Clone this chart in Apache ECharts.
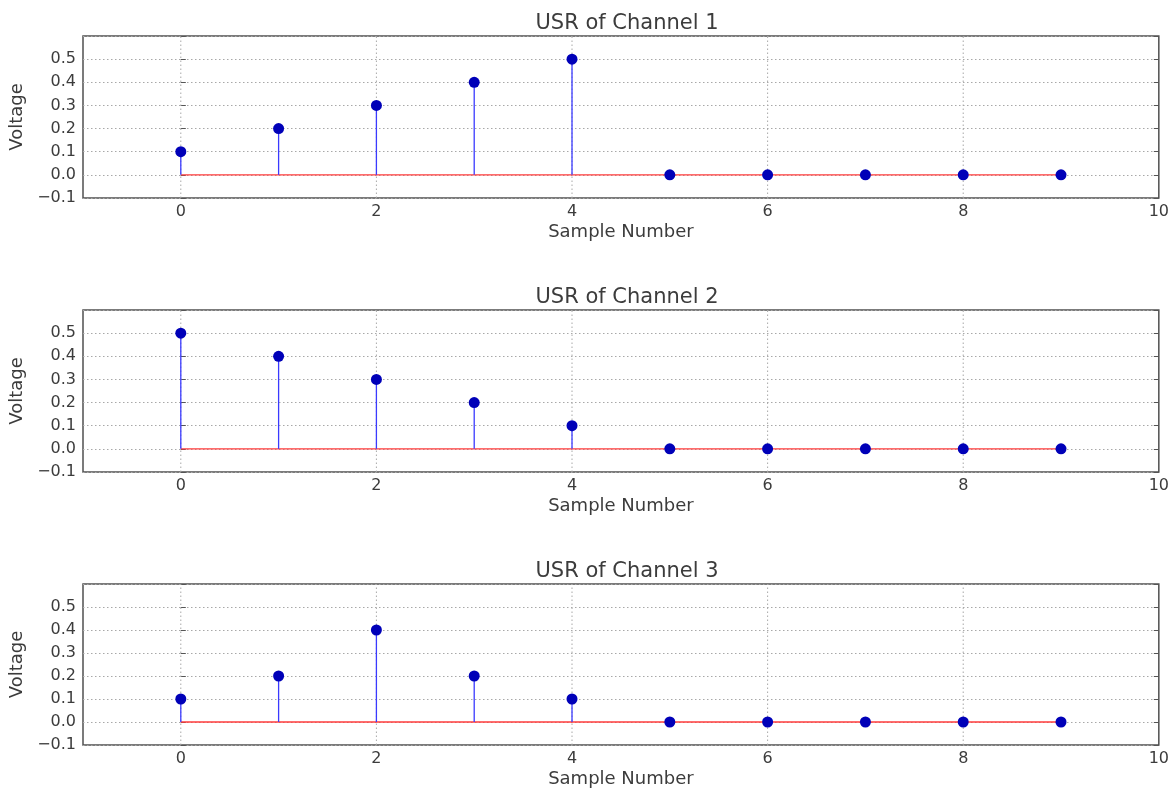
<!DOCTYPE html>
<html>
<head>
<meta charset="utf-8">
<script src="https://cdn.jsdelivr.net/npm/echarts@6/dist/echarts.min.js"></script>
<style>html,body{margin:0;padding:0;background:#fff}#c{width:1172px;height:789px}</style>
</head>
<body>
<div id="c"></div>
<script>
const samples = [0, 1, 2, 3, 4, 5, 6, 7, 8, 9];
const channel1 = [0.1, 0.2, 0.3, 0.4, 0.5, 0, 0, 0, 0, 0];
const channel2 = [0.5, 0.4, 0.3, 0.2, 0.1, 0, 0, 0, 0, 0];
const channel3 = [0.1, 0.2, 0.4, 0.2, 0.1, 0, 0, 0, 0, 0];
const titles = ['USR of Channel 1', 'USR of Channel 2', 'USR of Channel 3'];
const xGridTicks = [0, 2, 4, 6, 8];
const channels = [channel1, channel2, channel3];

const FONT = 'DejaVu Sans';
const TXT = '#3c3c3c';
const tops = [36, 310, 584];
const H = 162;
const Y_MIN = -0.1, Y_MAX = 0.6;

const grids = [], xAxes = [], yAxes = [], series = [], titleArr = [];
channels.forEach((vals, i) => {
  grids.push({left: 83, right: 11, top: tops[i], height: H, show: true, borderColor: '#505050', borderWidth: 1.5, backgroundColor: '#fff'});
  titleArr.push({text: titles[i], left: 622, textAlign: 'center', top: tops[i] - 28,
    textStyle: {fontFamily: FONT, fontSize: 21, fontWeight: 'normal', color: TXT}});
  xAxes.push({type: 'value', gridIndex: i, min: -1, max: 10, interval: 1,
    name: 'Sample Number', nameLocation: 'middle', nameGap: 25,
    nameTextStyle: {fontFamily: FONT, fontSize: 18, color: TXT},
    axisLine: {show: false}, axisTick: {show: false}, splitLine: {show: false},
    axisLabel: {fontFamily: FONT, fontSize: 16, color: TXT, margin: 6,
      formatter: v => (Math.round(v) % 2 === 0 && v >= 0) ? String(Math.round(v)) : ''}});
  const yCommon = {type: 'value', gridIndex: i, min: Y_MIN, max: Y_MAX, interval: 0.1};
  yAxes.push(Object.assign({}, yCommon, {
    name: 'Voltage', nameLocation: 'middle', nameGap: 54,
    nameTextStyle: {fontFamily: FONT, fontSize: 18, color: TXT},
    axisLine: {show: false},
    axisTick: {show: true, inside: true, length: 5, lineStyle: {color: '#555', width: 1}},
    splitLine: {show: true, lineStyle: {color: '#a8a8a8', type: [1.5, 2.5], width: 1}},
    axisLabel: {fontFamily: FONT, fontSize: 16, color: TXT, margin: 7,
      formatter: v => {
        if (v > 0.55) return '';
        const s = Math.abs(v).toFixed(1);
        return v < -0.001 ? '\u2212' + s : s;
      }}}));
  yAxes.push(Object.assign({}, yCommon, {position: 'right',
    axisLine: {show: false}, axisLabel: {show: false}, splitLine: {show: false},
    axisTick: {show: true, inside: true, length: 5, lineStyle: {color: '#555', width: 1}}}));

  // vertical dotted grid lines at even sample numbers
  series.push({type: 'custom', xAxisIndex: i, yAxisIndex: 2 * i, z: 1, silent: true,
    data: xGridTicks.map(t => [t]), encode: {x: 0},
    renderItem: (params, api) => {
      const a = api.coord([api.value(0), Y_MIN]);
      const b = api.coord([api.value(0), Y_MAX]);
      return {type: 'line', shape: {x1: a[0], y1: a[1], x2: b[0], y2: b[1]},
        style: {stroke: '#a8a8a8', lineWidth: 1, lineDash: [1.5, 2.5]}};
    }});
  series.push({type: 'line', xAxisIndex: i, yAxisIndex: 2 * i, z: 2,
    data: [[samples[0], 0], [samples[samples.length - 1], 0]],
    symbol: 'none', lineStyle: {color: '#ff3b3b', width: 1.3}, silent: true});
  const data = samples.map((s, k) => [s, vals[k]]);
  series.push({type: 'custom', xAxisIndex: i, yAxisIndex: 2 * i, data: data, encode: {x: 0, y: 1}, z: 3,
    renderItem: (params, api) => {
      const p0 = api.coord([api.value(0), 0]);
      const p1 = api.coord([api.value(0), api.value(1)]);
      return {type: 'line', shape: {x1: p0[0], y1: p0[1], x2: p1[0], y2: p1[1]},
        style: {stroke: '#3a3aff', lineWidth: 1.3}};
    }});
  series.push({type: 'scatter', xAxisIndex: i, yAxisIndex: 2 * i, z: 4, data: data,
    symbol: 'circle', symbolSize: 11, itemStyle: {color: '#0000b8', opacity: 1}});
});

const chart = echarts.init(document.getElementById('c'), null, {renderer: 'canvas'});
chart.setOption({
  animation: false,
  backgroundColor: '#fff',
  title: titleArr,
  grid: grids,
  xAxis: xAxes,
  yAxis: yAxes,
  series: series
});
</script>
</body>
</html>
